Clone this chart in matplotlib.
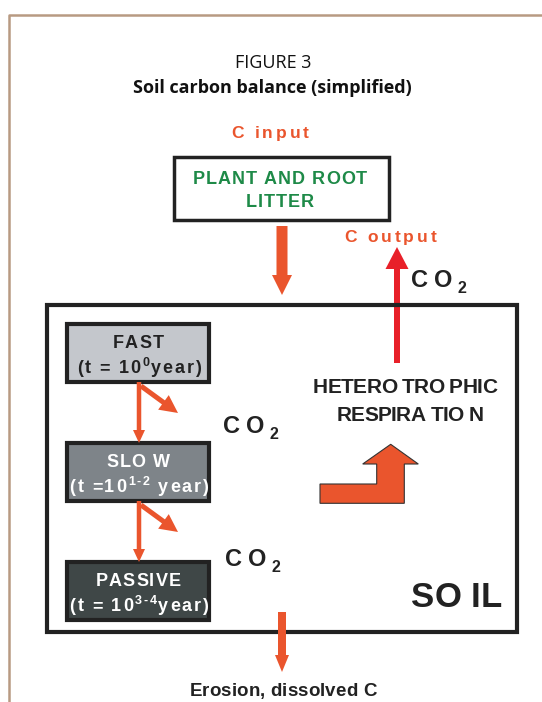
import matplotlib
matplotlib.use("Agg")
import matplotlib.pyplot as plt
from matplotlib.patches import Rectangle, Polygon, FancyArrow
from matplotlib.font_manager import FontProperties, findfont, get_font

# ---- text content ----
fig_label = "FIGURE 3"
title = "Soil carbon balance (simplified)"
input_label = "C input"
output_label = "C output"
litter_lines = ["PLANT AND ROOT", "LITTER"]
pool_names = ["FAST", "SLO W", "PASSIVE"]
# (base text, superscript, rest)
pool_times = [("(t = 10", "0", "year)"), ("(t =10", "1-2", " year)"), ("(t = 10", "3-4", "year)")]
pool_fills = ["#c4c7cc", "#7e8489", "#3f4747"]
pool_text_colors = ["#222222", "#ffffff", "#ffffff"]
resp_lines = ["HETERO TRO PHIC", "RESPIRA TIO N"]
soil_label = "SO IL"
erosion_label = "Erosion, dissolved C"
co2_main, co2_sub = "CO", "2"

ORANGE = "#ea552d"
RED = "#e82029"
GREEN = "#1e8a48"
DARK = "#222222"
FRAME = "#b89a82"
LBL = "Liberation Sans"
DPI = 100

W, H = 542, 702
fig = plt.figure(figsize=(W / DPI, H / DPI), dpi=DPI)
ax = fig.add_axes([0, 0, 1, 1])
ax.set_xlim(0, W)
ax.set_ylim(H, 0)
ax.axis("off")


def advance(ch, prop):
    f = get_font(findfont(prop))
    f.set_size(prop.get_size_in_points(), DPI)
    g = f.load_char(ord(ch))
    return g.linearHoriAdvance / 65536.0


def tracked(x, y, segs, track=0.0, ha="center", color=DARK, weight="bold", family=LBL):
    """segs: list of (text, size_pt, dy_px). y is the baseline in pixel coords."""
    items = []
    for text, size, dy in segs:
        prop = FontProperties(family=family, weight=weight, size=size)
        for ch in text:
            items.append((ch, prop, dy, advance(ch, prop)))
    total = sum(it[3] for it in items) + track * (len(items) - 1)
    cx = x - total / 2 if ha == "center" else x
    for ch, prop, dy, a in items:
        if ch != " ":
            ax.text(cx, y + dy, ch, fontproperties=prop, ha="left", va="baseline", color=color)
        cx += a + track


# outer frame (left + top lines)
ax.plot([9, 9, W + 5], [H + 5, 15, 15], color=FRAME, lw=1.8, solid_capstyle="butt")

# titles
ax.text(273, 68, fig_label, ha="center", va="baseline", fontsize=13, family="Open Sans",
        color="#111111")
ax.text(272, 93, title, ha="center", va="baseline", fontsize=13, family="Open Sans",
        fontweight="bold", color="#111111")

# C input & litter box
tracked(270, 138, [(input_label, 12.5, 0)], track=3, color=ORANGE)
ax.add_patch(Rectangle((174, 157), 215, 63, fill=False, ec=DARK, lw=2.5))
tracked(280, 184, [(litter_lines[0], 13, 0)], track=1, color=GREEN)
tracked(280, 207, [(litter_lines[1], 13, 0)], track=1, color=GREEN)

# input arrow
ax.add_patch(FancyArrow(282, 226, 0, 69, width=11, head_width=20, head_length=20,
                        length_includes_head=True, color=ORANGE, lw=0))

# C output + red arrow
tracked(390, 242, [(output_label, 12.5, 0)], track=3, color=ORANGE)
ax.add_patch(FancyArrow(397, 363, 0, -116, width=6, head_width=23, head_length=22,
                        length_includes_head=True, color=RED, lw=0))


def co2(x, y):
    tracked(x, y, [(co2_main, 17, 0), (co2_sub, 11.5, 6)], track=5.5, ha="left", color=DARK)


co2(411, 287)

# soil box
ax.add_patch(Rectangle((47, 305), 470, 327, fill=False, ec=DARK, lw=3))

# pools
box_tops = [324, 443, 562]
for top, name, t, fc, tc in zip(box_tops, pool_names, pool_times, pool_fills, pool_text_colors):
    ax.add_patch(Rectangle((67, top), 142, 58, fc=fc, ec=DARK, lw=3))
    tracked(138, top + 24, [(name, 13, 0)], track=1.2, color=tc)
    tracked(139, top + 49, [(t[0], 13, 0), (t[1], 9, -7), (t[2], 13, 0)], track=1.8, color=tc)

# arrows between pools and to CO2
for i in range(2):
    y0 = box_tops[i] + 58
    y1 = box_tops[i + 1]
    ax.add_patch(FancyArrow(139, y0, 0, y1 - y0, width=4.5, head_width=12, head_length=13,
                            length_includes_head=True, color=ORANGE, lw=0))
    ax.add_patch(FancyArrow(141, y0 + 4, 37, 27, width=5, head_width=18, head_length=18,
                            length_includes_head=True, color=ORANGE, lw=0))

co2(223, 433)
co2(225, 566)

# heterotrophic respiration
tracked(405, 393, [(resp_lines[0], 15, 0)], track=-0.6, color=DARK)
tracked(410, 421, [(resp_lines[1], 15, 0)], track=-0.6, color=DARK)

bent = [(320, 484), (376.7, 484), (376.7, 464), (362.7, 464), (390.7, 444.3),
        (418.3, 464), (404.3, 464), (404.3, 503.3), (320, 503.3)]
ax.add_patch(Polygon(bent, closed=True, fc=ORANGE, ec="#333333", lw=0.8))

# SOIL
tracked(411, 607, [(soil_label, 25, 0)], track=0, ha="left", color=DARK)

# erosion
ax.add_patch(FancyArrow(282, 612, 0, 60, width=8, head_width=14, head_length=17,
                        length_includes_head=True, color=ORANGE, lw=0))
tracked(283, 696, [(erosion_label, 13.5, 0)], track=0.1, color=DARK)

fig.savefig("out.png", dpi=DPI)
